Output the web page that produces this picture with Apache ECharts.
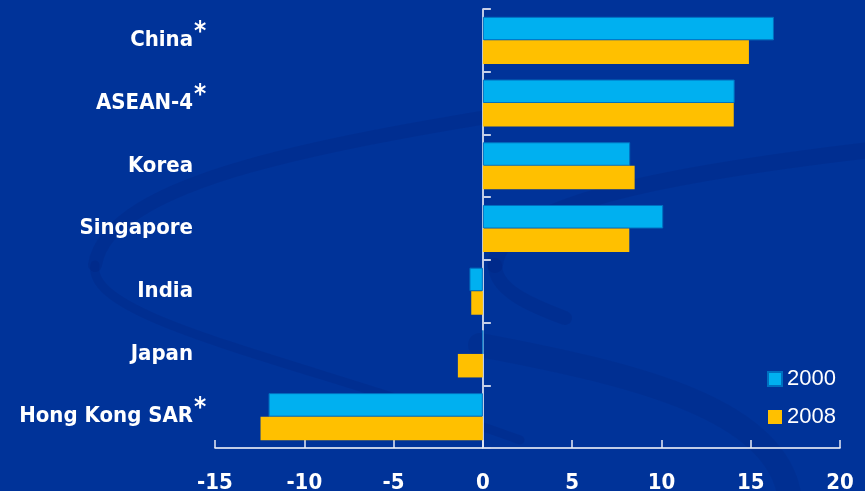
<!DOCTYPE html>
<html>
<head>
<meta charset="utf-8">
<script src="https://cdn.jsdelivr.net/npm/echarts@6/dist/echarts.min.js"></script>
<style>html,body{margin:0;padding:0;background:#003399;}#c{width:865px;height:491px;}</style>
</head>
<body>
<div id="c"></div>
<script>
const categories = ['China', 'ASEAN-4', 'Korea', 'Singapore', 'India', 'Japan', 'Hong Kong SAR'];
const starred = [true, true, false, false, false, false, true];
const seriesNames = ['2000', '2008'];
const values2000 = [16.3, 14.1, 8.25, 10.1, -0.75, 0, -12.0];
const values2008 = [14.9, 14.05, 8.5, 8.2, -0.65, -1.4, -12.45];
const xTicks = { min: -15, max: 20, interval: 5 };

const FONT = '"DejaVu Sans Condensed", "DejaVu Sans", sans-serif';
const chart = echarts.init(document.getElementById('c'), null, { renderer: 'canvas' });
const catAxisBase = {
  type: 'category', data: categories, inverse: true, boundaryGap: true
};
const swoosh = 'rgba(0, 28, 115, 0.2)';
chart.setOption({
  backgroundColor: '#003399',
  animation: false,
  graphic: [
    { type: 'bezierCurve', z: -10, silent: true,
      shape: { x1: 620, y1: 95, cpx1: 380, cpy1: 135, cpx2: 110, cpy2: 170, x2: 95, y2: 265 },
      style: { stroke: swoosh, lineWidth: 14, fill: null, lineCap: 'round' } },
    { type: 'bezierCurve', z: -10, silent: true,
      shape: { x1: 95, y1: 265, cpx1: 85, cpy1: 320, cpx2: 300, cpy2: 360, x2: 520, y2: 440 },
      style: { stroke: swoosh, lineWidth: 9, fill: null, lineCap: 'round' } },
    { type: 'bezierCurve', z: -10, silent: true,
      shape: { x1: 870, y1: 150, cpx1: 700, cpy1: 170, cpx2: 500, cpy2: 200, x2: 495, y2: 265 },
      style: { stroke: swoosh, lineWidth: 16, fill: null, lineCap: 'round' } },
    { type: 'bezierCurve', z: -10, silent: true,
      shape: { x1: 495, y1: 265, cpx1: 495, cpy1: 290, cpx2: 530, cpy2: 305, x2: 565, y2: 318 },
      style: { stroke: swoosh, lineWidth: 14, fill: null, lineCap: 'round' } },
    { type: 'bezierCurve', z: -10, silent: true,
      shape: { x1: 480, y1: 345, cpx1: 640, cpy1: 375, cpx2: 780, cpy2: 410, x2: 790, y2: 500 },
      style: { stroke: 'rgba(0, 28, 115, 0.16)', lineWidth: 24, fill: null, lineCap: 'round' } }
  ],
  grid: { left: 215, right: 25, top: 9, bottom: 43, containLabel: false, outerBoundsMode: 'none' },
  legend: {
    data: seriesNames, orient: 'vertical', left: 762, top: 363,
    icon: 'rect', itemWidth: 14, itemHeight: 14, itemGap: 16,
    textStyle: { color: '#fff', fontSize: 22,
      fontFamily: '"Liberation Sans Narrow", "Liberation Sans", sans-serif' }
  },
  xAxis: {
    type: 'value', min: xTicks.min, max: xTicks.max, interval: xTicks.interval,
    axisLine: { show: true, onZero: false, lineStyle: { color: '#fff', width: 1.5 } },
    axisTick: { show: true, inside: true, length: 8, lineStyle: { color: '#e8ecf6', width: 1.5 } },
    splitLine: { show: false },
    axisLabel: { color: '#fff', fontSize: 22, fontWeight: 'bold', fontFamily: FONT, margin: 24 }
  },
  yAxis: [
    Object.assign({}, catAxisBase, {
      position: 'left',
      axisLine: { show: true, onZero: true, lineStyle: { color: '#fff', width: 1.5 } },
      axisTick: { show: true, inside: true, length: 8, lineStyle: { color: '#c8d0e8', width: 2 } },
      axisLabel: { show: false }
    }),
    Object.assign({}, catAxisBase, {
      position: 'left',
      axisLine: { show: false, onZero: false },
      axisTick: { show: false },
      axisLabel: {
        margin: 8,
        formatter: function (v, i) {
          return '{n|' + v + '}{s|' + (starred[i] ? '*' : ' ') + '}';
        },
        rich: {
          n: { color: '#fff', fontSize: 22, fontWeight: 'bold', fontFamily: FONT },
          s: { color: '#fff', fontSize: 26, fontWeight: 'bold', fontFamily: FONT, width: 14, align: 'left', padding: [0, 0, 14, 0] }
        }
      }
    })
  ],
  series: [
    {
      name: seriesNames[0], type: 'bar', data: values2000, yAxisIndex: 0,
      barGap: '0%', barCategoryGap: '25%',
      itemStyle: { color: '#00B0F0', borderColor: '#0070C0', borderWidth: 1 }
    },
    {
      name: seriesNames[1], type: 'bar', data: values2008, yAxisIndex: 0,
      barGap: '0%', barCategoryGap: '25%',
      itemStyle: { color: '#FFC000' }
    }
  ]
});
</script>
</body>
</html>
